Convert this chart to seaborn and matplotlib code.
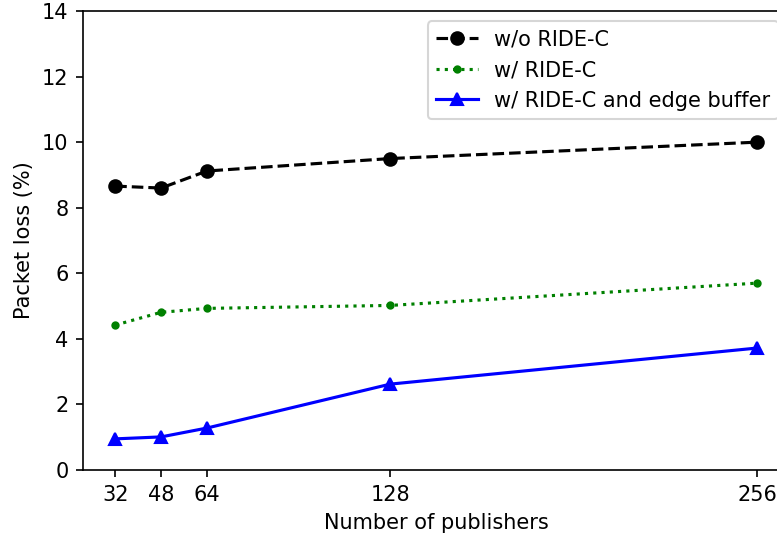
import matplotlib
matplotlib.use("Agg")
import matplotlib.pyplot as plt
import seaborn as sns

# Number of publishers
publishers = [32, 48, 64, 128, 256]

# Packet loss (%) per configuration
loss_without = [8.66, 8.60, 9.12, 9.50, 10.0]
loss_ridec = [4.42, 4.81, 4.93, 5.02, 5.70]
loss_ridec_buffer = [0.95, 1.01, 1.28, 2.62, 3.72]

series_labels = ["w/o RIDE-C", "w/ RIDE-C", "w/ RIDE-C and edge buffer"]
y_ticks = [0, 2, 4, 6, 8, 10, 12, 14]

fig = plt.figure(figsize=(777 / 150, 540 / 150), dpi=150)
ax = fig.add_axes([0.107, 0.1296, 0.9085, 0.85])

styles = [
    (loss_without, "k", "o", "--"),
    (loss_ridec, "g", ".", ":"),
    (loss_ridec_buffer, "b", "^", "-"),
]
for (vals, color, marker, ls), label in zip(styles, series_labels):
    sns.lineplot(x=publishers, y=vals, ax=ax, color=color, marker=marker,
                 linestyle=ls, linewidth=1.5, markersize=6,
                 markeredgecolor=color, markeredgewidth=1.0, label=label)

ax.set_xticks(publishers)
ax.set_xticklabels([str(p) for p in publishers])
ax.set_yticks(y_ticks)
ax.set_ylim(0, 14)
ax.set_xlabel("Number of publishers")
ax.set_ylabel("Packet loss (%)")
ax.legend(loc="upper right")

fig.savefig("out.png", dpi=150)
